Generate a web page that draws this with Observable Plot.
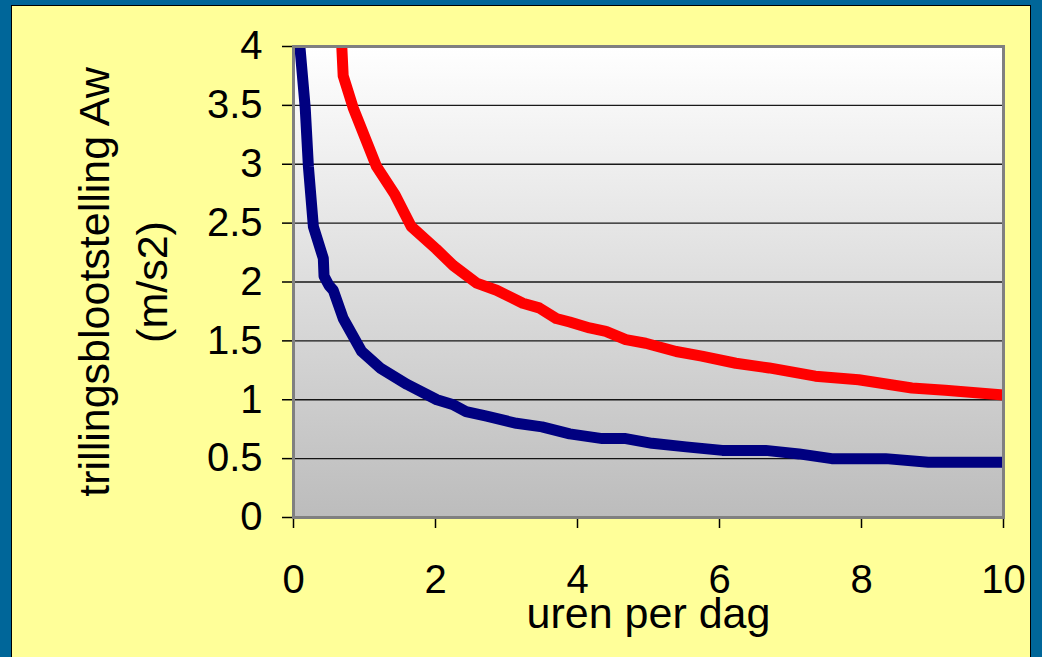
<!DOCTYPE html>
<html><head><meta charset="utf-8">
<script src="https://cdn.jsdelivr.net/npm/d3@7"></script>
<script src="https://cdn.jsdelivr.net/npm/@observablehq/plot@0.6"></script>
<style>
html,body{margin:0;padding:0;background:#006699;width:1042px;height:657px;overflow:hidden}
#panel{position:absolute;left:11px;top:5px;width:1020px;height:700px;background:#ffff99;border:1.5px solid #000;box-sizing:border-box}
#chart{position:absolute;left:0;top:0}
</style></head><body><div id="panel"></div><div id="chart"></div>
<script>
// uren per dag (x) and trillingsblootstelling Aw (y) for each curve
const blueHours = [0.09,0.165,0.21,0.28,0.42,0.43,0.5,0.56,0.7,0.96,1.22,1.6,2.02,2.24,2.43,2.72,3.14,3.5,3.89,4.35,4.68,5.05,5.53,6.04,6.65,7.12,7.58,8.34,8.94,10];
const blueAw    = [4.0,3.48,2.98,2.47,2.2,2.05,1.97,1.93,1.69,1.41,1.27,1.13,1.0,0.96,0.9,0.86,0.8,0.77,0.71,0.67,0.67,0.63,0.6,0.57,0.57,0.54,0.5,0.5,0.47,0.47];
const redHours  = [0.68,0.7,0.84,1.17,1.43,1.66,2.01,2.25,2.58,2.86,3.23,3.46,3.7,3.89,4.17,4.4,4.68,4.96,5.39,5.75,6.23,6.7,7.35,7.96,8.71,9.18,10];
const redAw     = [4.0,3.75,3.48,2.98,2.74,2.47,2.28,2.14,1.99,1.93,1.82,1.78,1.69,1.66,1.61,1.58,1.51,1.48,1.41,1.37,1.31,1.27,1.2,1.17,1.1,1.08,1.04];
const xTicks = [0,2,4,6,8,10];
const yTicks = [0,0.5,1,1.5,2,2.5,3,3.5,4];
const xTitle = "uren per dag";
const yTitle = "trillingsblootstelling Aw\n(m/s2)";

const blue = blueHours.map((h,i)=>({hours:h, aw:blueAw[i]}));
const red = redHours.map((h,i)=>({hours:h, aw:redAw[i]}));

const font = "'Liberation Sans', Arial, Helvetica, sans-serif";
const chart = Plot.plot({
  width:1042, height:657,
  marginLeft:293, marginRight:39, marginTop:46, marginBottom:140,
  style:{background:"transparent", fontFamily:font, fontSize:"40px", color:"#000", overflow:"visible"},
  x:{domain:[0,10]},
  y:{domain:[0,4]},
  marks:[
    Plot.frame({fill:"url(#plotBg)"}),
    Plot.gridY(yTicks.filter(d=>d>0 && d<4), {stroke:"#000", strokeOpacity:0.9, strokeWidth:1.3}),
    Plot.axisY(yTicks, {tickSize:11, tickPadding:20, tickFormat:d=>String(d), fontSize:40, strokeWidth:1.5, label:null}),
    Plot.axisX(xTicks, {tickSize:11, tickPadding:36, tickFormat:d=>String(d), fontSize:40, strokeWidth:1.5, label:null}),
    Plot.line(red, {x:"hours", y:"aw", stroke:"#ff0000", strokeWidth:11, strokeLinejoin:"round", strokeLinecap:"butt"}),
    Plot.line(blue, {x:"hours", y:"aw", stroke:"#000080", strokeWidth:11, strokeLinejoin:"round", strokeLinecap:"butt"}),
    Plot.frame({stroke:"#808080", strokeWidth:3}),
    Plot.text([yTitle], {text:d=>d, frameAnchor:"left", rotate:-90, dx:-174, fontSize:43, lineHeight:1.35, textAnchor:"middle", lineAnchor:"middle", fill:"#000"}),
    Plot.text([xTitle], {text:d=>d, frameAnchor:"bottom", dy:97, fontSize:43, textAnchor:"middle", lineAnchor:"middle", fill:"#000"})
  ]
});
d3.select(chart).insert("defs", ":first-child").html(
  '<linearGradient id="plotBg" x1="0" y1="0" x2="0" y2="1">' +
  '<stop offset="0" stop-color="#ffffff"/><stop offset="1" stop-color="#bcbcbc"/></linearGradient>');
document.getElementById("chart").appendChild(chart);
</script></body></html>
